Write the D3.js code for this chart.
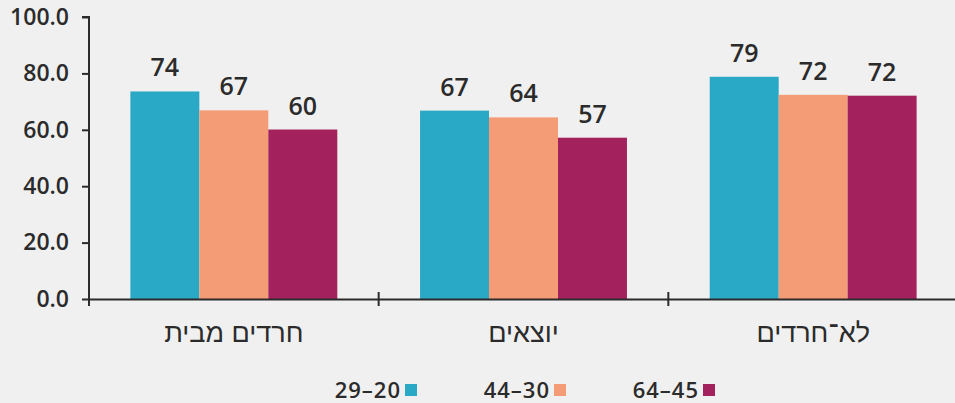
<!DOCTYPE html>
<html><head><meta charset="utf-8">
<script src="https://cdn.jsdelivr.net/npm/d3@7"></script>
<style>body{margin:0;background:#f0f0f0}svg{display:block}</style>
</head><body>
<svg id="c" width="955" height="403"></svg>
<script>
const categories = ["חרדים מבית", "יוצאים", "לא־חרדים"];
const seriesNames = ["29–20", "44–30", "64–45"];
const age20_29 = [73.6, 66.8, 78.8];
const age30_44 = [66.9, 64.4, 72.4];
const age45_64 = [60.1, 57.2, 72.1];
const colors = ["#29a9c5", "#f49c76", "#a3215c"];
const yTicks = [0, 20, 40, 60, 80, 100];

const series = [age20_29, age30_44, age45_64];
const svg = d3.select("#c");
const m = {l: 89, t: 17, b: 299};
const x = d3.scaleBand().domain(categories).range([m.l, 958]).paddingInner(0).paddingOuter(0);
const x1 = d3.scaleBand().domain(d3.range(3)).range([0, x.bandwidth()]).paddingInner(0).paddingOuter(0.6);
const y = d3.scaleLinear().domain([0, 100]).range([m.b, m.t]);
const numFont = "Open Sans, sans-serif";

const g = svg.append("g");
categories.forEach((c, i) => {
  series.forEach((s, j) => {
    const bx = x(c) + x1(j);
    g.append("rect").attr("x", bx).attr("y", y(s[i])).attr("width", x1.bandwidth())
      .attr("height", y(0) - y(s[i])).attr("fill", colors[j]);
    g.append("text").attr("x", bx + x1.bandwidth()/2).attr("y", y(s[i]) - 15)
      .attr("text-anchor", "middle").attr("font-family", numFont)
      .attr("font-weight", 650).attr("font-size", 25).attr("font-stretch", "90%").attr("fill", "#2b2b2b")
      .text(d3.format(".0f")(s[i]));
  });
});

// y axis
const ya = svg.append("g").attr("transform", `translate(${m.l},0)`)
  .call(d3.axisLeft(y).tickValues(yTicks).tickFormat(d3.format(".1f")).tickSize(7).tickPadding(13));
ya.select(".domain").attr("stroke", "#2b2b2b").attr("stroke-width", 2).attr("d", `M-7,${y(100)}H0V${y(0)+7}`);
ya.selectAll(".tick line").attr("stroke", "#2b2b2b").attr("stroke-width", 2);
ya.selectAll("text").attr("font-family", numFont).attr("font-weight", 650)
  .attr("font-size", 23).attr("fill", "#2b2b2b");

// x axis
const xa = svg.append("g").attr("transform", `translate(0,${y(0)})`)
  .call(d3.axisBottom(x).tickSize(0).tickPadding(24));
xa.select(".domain").attr("stroke", "#2b2b2b").attr("stroke-width", 2);
xa.selectAll("text").attr("font-family", "Liberation Sans, sans-serif").attr("font-size", 27).attr("fill", "#2b2b2b");
categories.slice(1).forEach(c => {
  xa.append("line").attr("x1", x(c)).attr("x2", x(c)).attr("y1", -7).attr("y2", 7)
    .attr("stroke", "#2b2b2b").attr("stroke-width", 2);
});

// legend
const lx = [405, 554, 703];
seriesNames.forEach((n, j) => {
  svg.append("rect").attr("x", lx[j]).attr("y", 384).attr("width", 12).attr("height", 12).attr("fill", colors[j]);
  svg.append("text").attr("x", lx[j] - 4).attr("y", 398).attr("text-anchor", "end")
    .attr("font-family", numFont).attr("font-weight", 650).attr("font-size", 22)
    .attr("letter-spacing", 1).attr("fill", "#2b2b2b").text(n);
});
</script>
</body></html>
